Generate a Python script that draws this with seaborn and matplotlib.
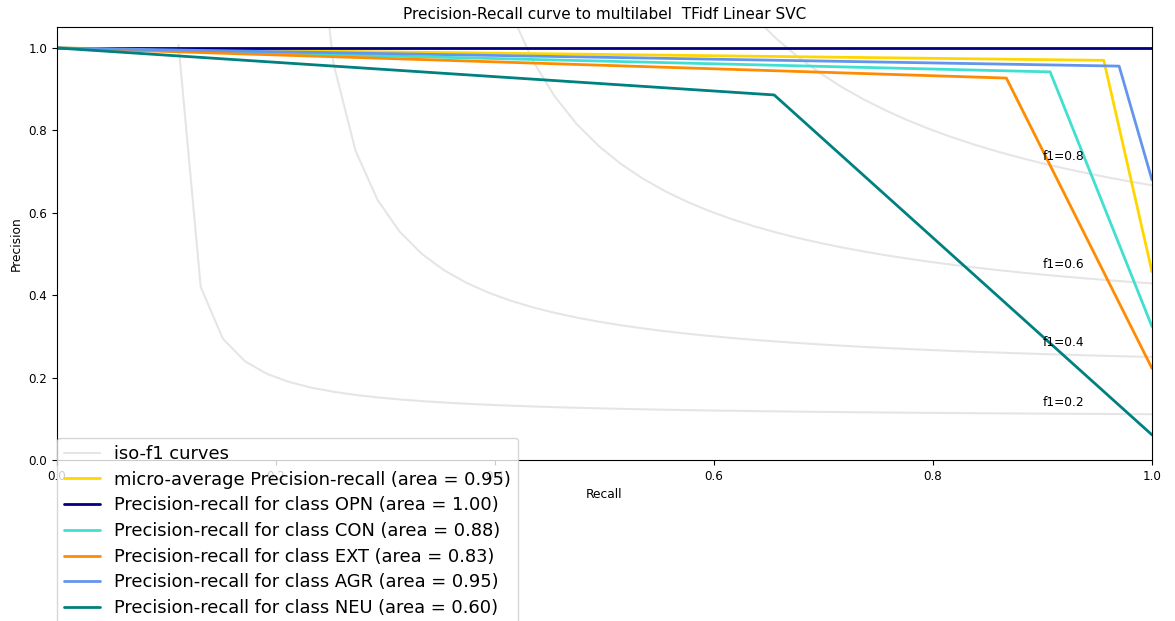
import numpy as np
import matplotlib
matplotlib.use("Agg")
import matplotlib.pyplot as plt
import seaborn as sns

# Precision / recall points per curve (recall ascending, ending at recall = 1)
micro_recall = [0.0, 0.956, 1.0]
micro_precision = [1.0, 0.970, 0.457]
micro_area = 0.95

class_names = ["OPN", "CON", "EXT", "AGR", "NEU"]
class_recall = [
    [0.0, 1.0],
    [0.0, 0.907, 1.0],
    [0.0, 0.867, 1.0],
    [0.0, 0.970, 1.0],
    [0.0, 0.655, 1.0],
]
class_precision = [
    [1.0, 1.0],
    [1.0, 0.942, 0.324],
    [1.0, 0.927, 0.2225],
    [1.0, 0.956, 0.68],
    [1.0, 0.886, 0.061],
]
class_area = [1.00, 0.88, 0.83, 0.95, 0.60]
class_colors = ["navy", "turquoise", "darkorange", "cornflowerblue", "teal"]

f_scores = [0.2, 0.4, 0.6, 0.8]

sns.set_style("ticks", rc={
    "axes.edgecolor": "black",
    "axes.linewidth": 0.8,
    "xtick.color": "black",
    "ytick.color": "black",
    "text.color": "black",
    "axes.labelcolor": "black",
    "xtick.major.size": 3.5,
    "ytick.major.size": 3.5,
    "xtick.major.width": 0.8,
    "ytick.major.width": 0.8,
})
plt.rcParams["font.family"] = ["DejaVu Sans"]
plt.rcParams["font.size"] = 8.6

fig = plt.figure(figsize=(11.75, 6.21), dpi=100)
ax = fig.add_axes([0.0485, 0.2593, 0.9319, 0.6966])

# iso-f1 reference curves
for i, f in enumerate(f_scores):
    x = np.linspace(0.01, 1)
    y = f * x / (2 * x - f)
    keep = y >= 0
    sns.lineplot(x=x[keep], y=y[keep], ax=ax, color="gray", alpha=0.2,
                 lw=1.5, sort=False, estimator=None,
                 label="iso-f1 curves" if i == 0 else None)
    ax.annotate("f1={0:0.1f}".format(f), xy=(0.9, y[45] + 0.02), fontsize=8.8)

sns.lineplot(x=micro_recall, y=micro_precision, ax=ax, color="gold", lw=2,
             sort=False, estimator=None,
             label="micro-average Precision-recall (area = {0:0.2f})".format(micro_area))

for name, r, p, a, c in zip(class_names, class_recall, class_precision,
                            class_area, class_colors):
    sns.lineplot(x=r, y=p, ax=ax, color=c, lw=2, sort=False, estimator=None,
                 label="Precision-recall for class {0} (area = {1:0.2f})".format(name, a))

ax.set_xlim(0.0, 1.0)
ax.set_ylim(0.0, 1.05)
ax.set_xticks([0.0, 0.2, 0.4, 0.6, 0.8, 1.0])
ax.set_yticks([0.0, 0.2, 0.4, 0.6, 0.8, 1.0])
ax.tick_params(labelsize=8.6)
ax.set_xlabel("Recall", fontsize=8.8)
ax.set_ylabel("Precision", fontsize=8.8)
ax.set_title("Precision-Recall curve to multilabel  TFidf Linear SVC", fontsize=11.0)
ax.legend(loc=(0, -.38), prop=dict(size=12.9), labelspacing=0.43)

fig.savefig("out.png", dpi=100)
